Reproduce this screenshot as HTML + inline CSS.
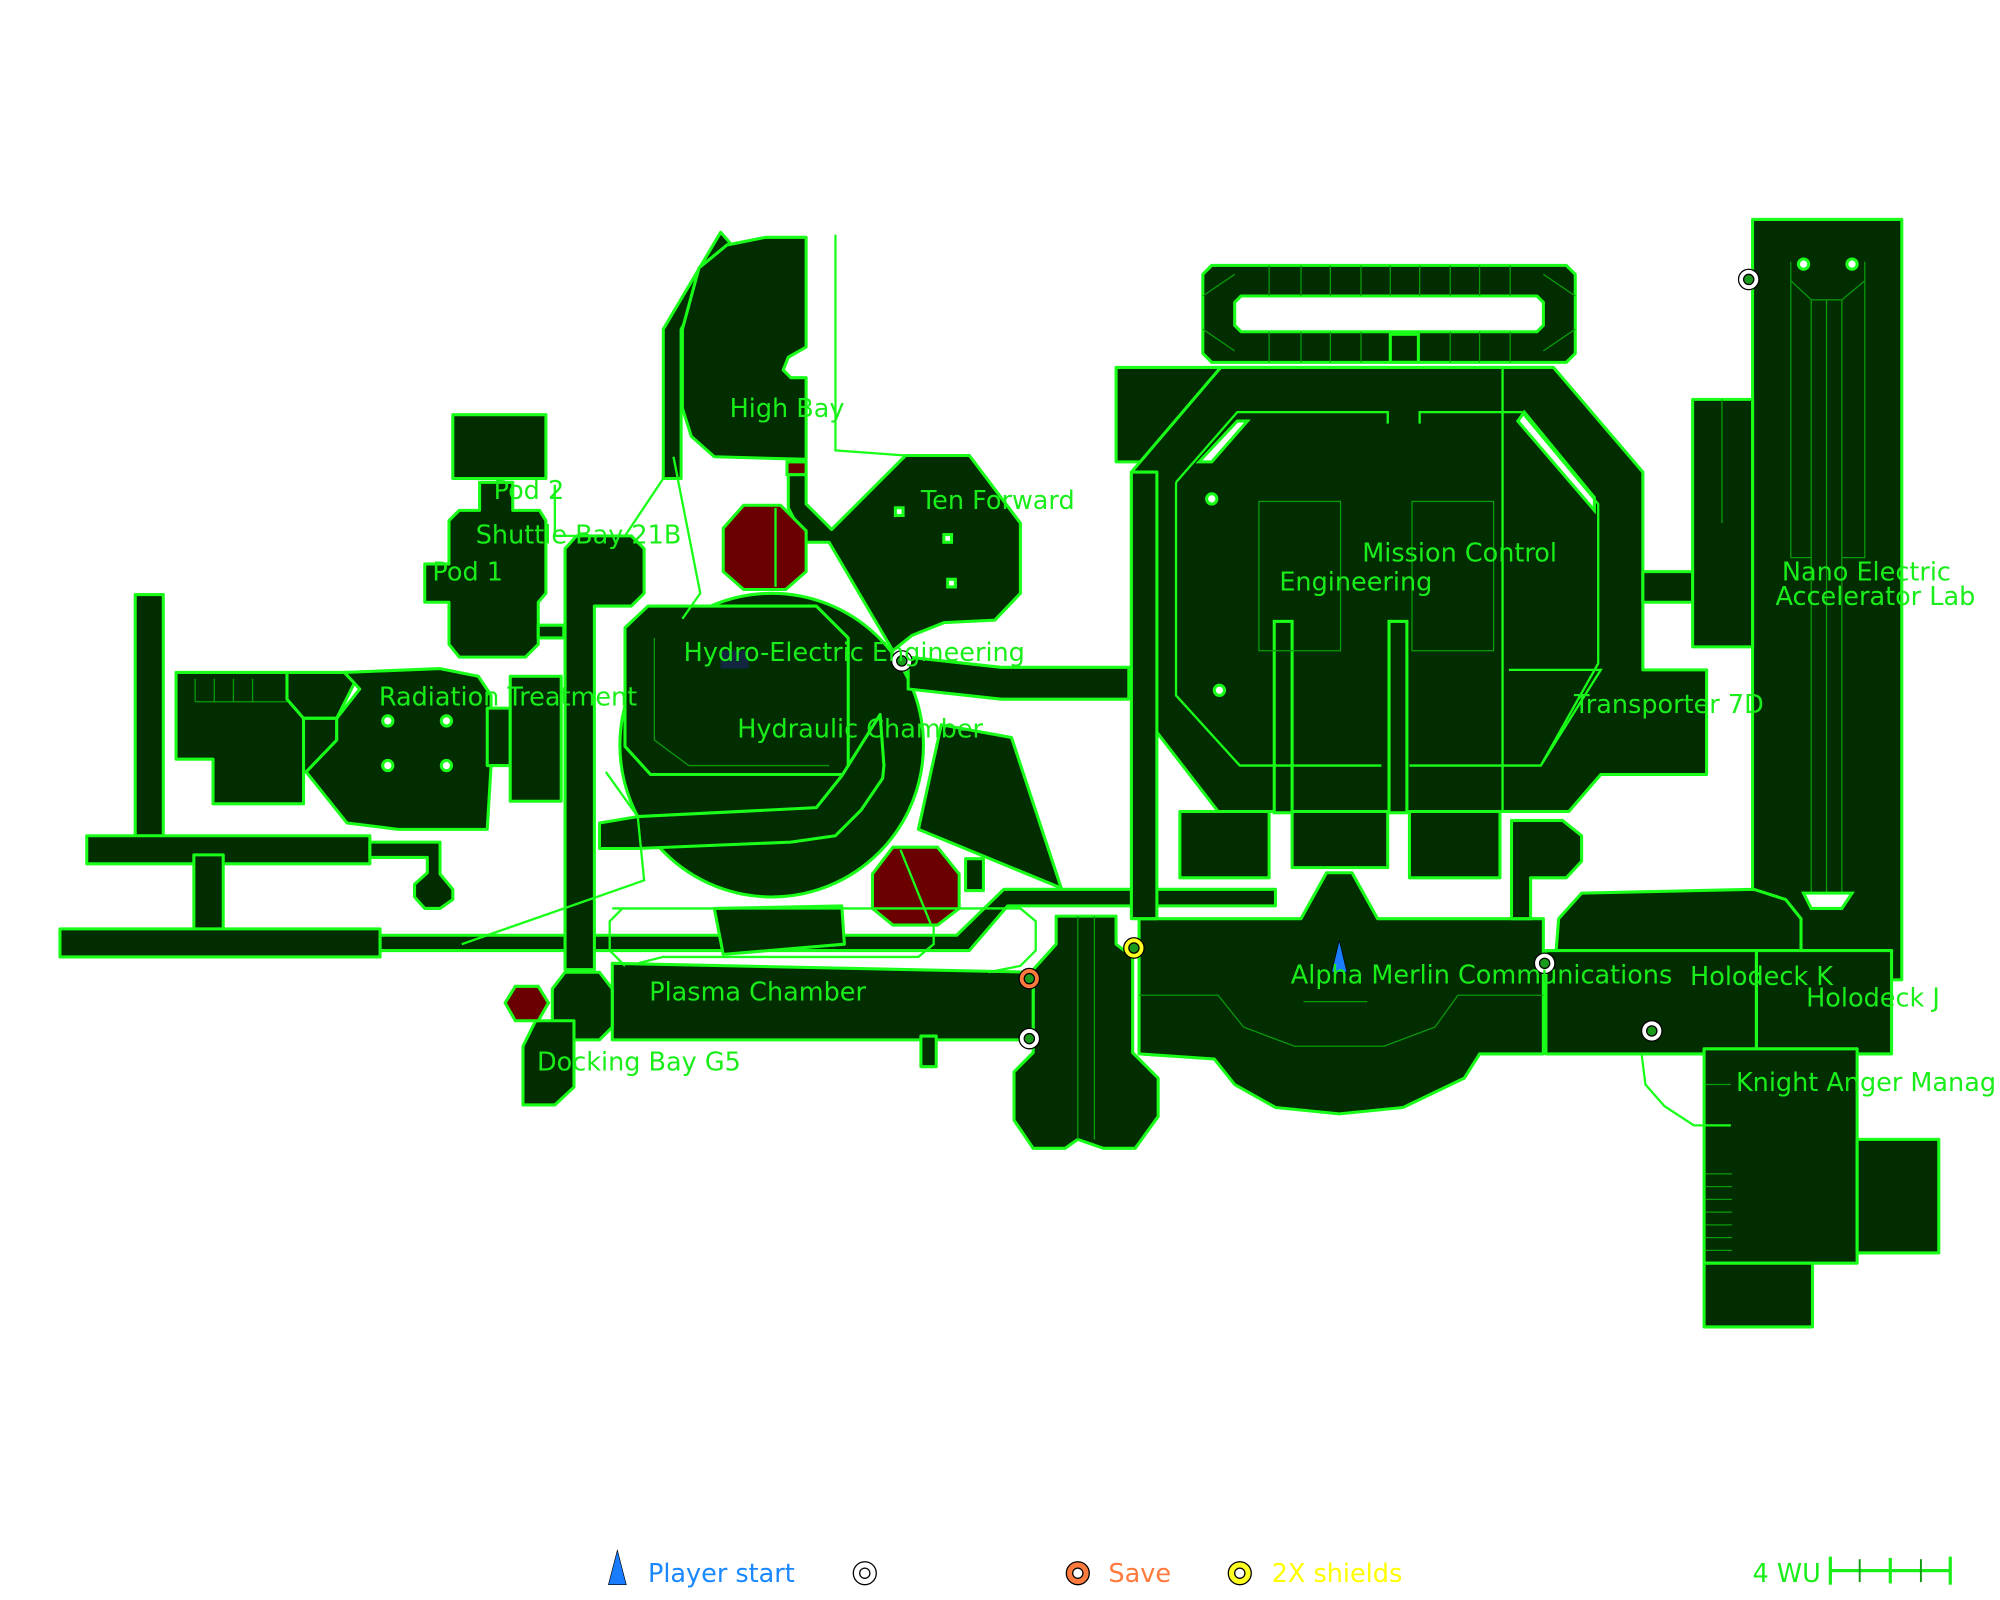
<!DOCTYPE html>
<html><head><meta charset="utf-8"><style>
html,body{margin:0;padding:0;background:#fff;}
svg{display:block;}
text{font-family:"DejaVu Sans","Liberation Sans",sans-serif;}
</style></head><body>
<svg width="2000" height="1600" viewBox="0 0 1568 1254" preserveAspectRatio="none" xmlns="http://www.w3.org/2000/svg">
<g fill="#012d01" stroke="#1aff1a" stroke-width="2.4" stroke-linejoin="round">
<rect x="106" y="466" width="22" height="200"/>
<rect x="68" y="655" width="222" height="22"/>
<rect x="152" y="670" width="23" height="62"/>
<rect x="47" y="728" width="251" height="22"/>
<polygon points="298,733 750,733 787,697 1000,697 1000,710 790,710 760,745 298,745"/>
<polygon points="290,660 345,660 345,685 355,697 355,705 345,712 333,712 325,703 325,693 335,684 335,672 290,672"/>
<polygon points="138,527 225,527 238,563 238,630 167,630 167,595 138,595"/>
<polygon points="225,527 282,527 264,563 238,563 225,548"/>
<rect x="238" y="563" width="26" height="42"/>
<polygon points="270,527 345,524 375,530 385,545 385,600 382,650 312,650 272,645 240,605 264,580 264,563 282,540"/>
<rect x="382" y="555" width="18" height="45"/>
<rect x="400" y="530" width="40" height="98"/>
<rect x="355" y="325" width="73" height="50"/>
<polygon points="376,378 402,378 402,400 423,400 428,408 428,465 422,472 422,505 412,515 360,515 352,505 352,472 333,472 333,442 352,442 352,408 360,400 376,400"/>
<rect x="422" y="490" width="20" height="10"/>
<polygon points="443,430 452,420 495,420 505,430 505,465 495,475 466,475 466,760 443,760"/>
<polygon points="520,258 565,182 572,190 534,258 534,375 520,375"/>
<polygon points="548,210 570,192 600,186 632,186 632,272 618,280 614,290 620,296 632,296 632,360 560,358 542,342 535,320 535,258"/>
<polygon points="618,372 632,372 632,395 652,415 710,357 760,357 800,410 800,465 780,486 740,488 715,498 700,510 650,425 632,425 618,398"/>
<circle cx="605" cy="584" r="119"/>
<polygon points="508,475 640,475 665,500 665,607 510,607 490,585 490,492"/>
<polygon points="470,645 500,640 640,633 660,608 690,560 693,600 692,610 675,635 655,655 620,660 500,665 470,665"/>
<polygon points="712,515 785,523 885,523 885,548 785,548 712,540"/>
<polygon points="738,568 793,578 832,696 720,650"/>
<rect x="757" y="673" width="14" height="25"/>
<rect x="875" y="288" width="82" height="74"/>
<polygon points="887,370 957,288 1218,288 1288,370 1288,525 1338,525 1338,607 1255,607 1230,636 955,636 887,548"/>
<rect x="1288" y="448" width="40" height="24"/>
<polygon points="950,208 1228,208 1235,215 1235,277 1228,284 950,284 943,277 943,215"/>
<polygon points="973,232 1205,232 1210,237 1210,255 1205,260 973,260 968,255 968,237" fill="#fff"/>
<rect x="1374" y="172" width="117" height="596"/>
<rect x="1327" y="313" width="47" height="194"/>
<polygon points="1220,745 1222,720 1240,700 1375,697 1400,705 1412,720 1412,745"/>
<rect x="1377" y="745" width="106" height="81"/>
<rect x="1212" y="745" width="165" height="81"/>
<rect x="1336" y="822" width="120" height="168"/>
<rect x="1456" y="893" width="64" height="89"/>
<rect x="1336" y="990" width="85" height="50"/>
<polygon points="893,720 1020,720 1040,684 1060,684 1080,720 1210,720 1210,826 1160,826 1148,845 1100,868 1050,873 1000,868 968,850 952,830 893,826"/>
<rect x="925" y="636" width="70" height="52"/>
<rect x="1013" y="636" width="75" height="44"/>
<rect x="1105" y="636" width="71" height="52"/>
<polygon points="1185,643 1225,643 1240,655 1240,675 1228,688 1200,688 1200,720 1185,720"/>
<rect x="887" y="370" width="20" height="350"/>
<polygon points="828,718 875,718 875,740 888,750 888,825 908,845 908,875 890,900 865,900 845,893 835,900 810,900 795,878 795,840 810,825 810,760 828,740"/>
<polygon points="480,755 810,762 810,815 480,815"/>
<polygon points="443,762 470,762 480,775 480,805 470,815 443,815 433,805 433,775"/>
<polygon points="410,820 420,800 450,800 450,852 435,866 410,866"/>
<polygon points="560,712 660,710 662,740 567,748"/>
<rect x="722" y="812" width="12" height="24"/>
</g>
<g fill="#fff" stroke="#1aff1a" stroke-width="2.4">
<polygon points="940,362 970,330 978,330 950,362"/>
<polygon points="1195,323 1250,390 1250,400 1190,330"/>
</g>
<g fill="#012d01" stroke="#1aff1a" stroke-width="2.4">
<rect x="999" y="487" width="14" height="150"/>
<rect x="1089" y="487" width="14" height="150"/>
</g>
<g fill="#6b0000" stroke="#1aff1a" stroke-width="2.4">
<polygon points="583,396 612,396 632,416 632,448 616,462 583,462 567,448 567,414"/>
<polygon points="700,664 735,664 752,685 752,712 735,725 700,725 684,712 684,685"/>
<polygon points="404,773 422,773 430,786 422,800 404,800 396,786"/>
<rect x="617" y="362" width="15" height="10"/>
</g>
<g fill="none" stroke="#1aff1a" stroke-width="1.8">
<polyline points="655,184 655,353 710,357"/>
<polyline points="528,358 549,465 535,485"/>
<polyline points="520,375 490,420 435,420 435,380"/>
<polyline points="475,605 500,640 505,690 362,740"/>
<polyline points="480,712 800,712 812,722 812,745 800,757 775,762"/>
<polyline points="1287,826 1290,850 1305,867 1328,882 1357,882"/>
<polyline points="608,398 608,460"/>
<polyline points="706,666 730,725"/>
<polyline points="922,378 970,323 1088,323 1088,332"/>
<polyline points="1113,332 1113,323 1193,323 1253,395 1253,520 1208,600 1105,600"/>
<polyline points="1083,600 972,600 922,545 922,378"/>
<polyline points="1183,525 1255,525 1208,600"/>
<polyline points="488,712 478,722 478,745 490,757"/>
<polyline points="500,755 520,750 720,750 732,740 732,725"/>
<line x1="1178" y1="288" x2="1178" y2="636"/>
</g>
<g fill="none" stroke="#0a9a0a" stroke-width="1">
<rect x="1420" y="235" width="24" height="465"/>
<polyline points="1404,205 1404,437 1420,437"/><polyline points="1462,205 1462,437 1444,437"/>
<polyline points="1404,220 1420,235"/><polyline points="1462,220 1444,235"/>
<line x1="1432" y1="235" x2="1432" y2="700"/>
<rect x="1107" y="393" width="64" height="117"/><rect x="987" y="393" width="64" height="117"/>
<line x1="153" y1="550" x2="225" y2="550"/>
<polyline points="893,780 955,780 975,805 1015,820 1085,820 1125,805 1143,780 1210,780"/>
<line x1="1022" y1="785" x2="1072" y2="785"/>
<polyline points="943,258 968,275"/><polyline points="943,232 968,215"/>
<polyline points="1235,258 1210,275"/><polyline points="1235,232 1210,215"/>
<line x1="1350" y1="313" x2="1350" y2="410"/>
<line x1="1337" y1="850" x2="1357" y2="850"/>
<polyline points="513,500 513,580 540,600 650,600"/>
<line x1="845" y1="718" x2="845" y2="893"/><line x1="858" y1="718" x2="858" y2="893"/>
</g>
<g stroke="#0a9a0a" stroke-width="1">
<line x1="995" y1="208" x2="995" y2="232"/><line x1="1020" y1="208" x2="1020" y2="232"/><line x1="1043" y1="208" x2="1043" y2="232"/><line x1="1067" y1="208" x2="1067" y2="232"/><line x1="1090" y1="208" x2="1090" y2="232"/><line x1="1113" y1="208" x2="1113" y2="232"/><line x1="1137" y1="208" x2="1137" y2="232"/><line x1="1160" y1="208" x2="1160" y2="232"/><line x1="1184" y1="208" x2="1184" y2="232"/>
<line x1="995" y1="260" x2="995" y2="284"/><line x1="1020" y1="260" x2="1020" y2="284"/><line x1="1043" y1="260" x2="1043" y2="284"/><line x1="1067" y1="260" x2="1067" y2="284"/><line x1="1137" y1="260" x2="1137" y2="284"/><line x1="1160" y1="260" x2="1160" y2="284"/><line x1="1184" y1="260" x2="1184" y2="284"/>
<line x1="1337" y1="920" x2="1358" y2="920"/><line x1="1337" y1="930" x2="1358" y2="930"/><line x1="1337" y1="940" x2="1358" y2="940"/><line x1="1337" y1="950" x2="1358" y2="950"/><line x1="1337" y1="960" x2="1358" y2="960"/><line x1="1337" y1="970" x2="1358" y2="970"/><line x1="1337" y1="980" x2="1358" y2="980"/>
<line x1="153" y1="532" x2="153" y2="550"/><line x1="168" y1="532" x2="168" y2="550"/><line x1="183" y1="532" x2="183" y2="550"/><line x1="198" y1="532" x2="198" y2="550"/>
</g>
<g stroke="#1aff1a" stroke-width="2.4"><rect x="1090" y="262" width="22" height="22" fill="none"/></g>
<g fill="#fff" stroke="#1aff1a" stroke-width="2.4">
<circle cx="304" cy="565" r="4"/><circle cx="350" cy="565" r="4"/><circle cx="304" cy="600" r="4"/><circle cx="350" cy="600" r="4"/>
<circle cx="1414" cy="207" r="4"/><circle cx="1452" cy="207" r="4"/>
<circle cx="950" cy="391" r="4"/><circle cx="956" cy="541" r="4"/>
<rect x="702" y="398" width="6" height="6"/><rect x="740" y="419" width="6" height="6"/><rect x="743" y="454" width="6" height="6"/>
</g>
<polygon points="1414,700 1452,700 1444,712 1420,712" fill="#fff" stroke="#1aff1a" stroke-width="2.4"/>
<rect x="565" y="510" width="22" height="14" fill="#132640"/>
<g>
<circle cx="707" cy="518" r="8" fill="#fff" stroke="#000" stroke-width="1"/><circle cx="707" cy="518" r="4" fill="#1a9a1a" stroke="#000" stroke-width="1"/>
<circle cx="1371" cy="219" r="8" fill="#fff" stroke="#000" stroke-width="1"/><circle cx="1371" cy="219" r="4" fill="#1a9a1a" stroke="#000" stroke-width="1"/>
<circle cx="1211" cy="755" r="8" fill="#fff" stroke="#000" stroke-width="1"/><circle cx="1211" cy="755" r="4" fill="#1a9a1a" stroke="#000" stroke-width="1"/>
<circle cx="1295" cy="808" r="8" fill="#fff" stroke="#000" stroke-width="1"/><circle cx="1295" cy="808" r="4" fill="#1a9a1a" stroke="#000" stroke-width="1"/>
<circle cx="807" cy="814" r="8" fill="#fff" stroke="#000" stroke-width="1"/><circle cx="807" cy="814" r="4" fill="#1a9a1a" stroke="#000" stroke-width="1"/>
<circle cx="807" cy="767" r="8" fill="#ff7a3d" stroke="#000" stroke-width="1"/><circle cx="807" cy="767" r="4" fill="#1a9a1a" stroke="#000" stroke-width="1"/>
<circle cx="889" cy="743" r="8" fill="#ffff22" stroke="#000" stroke-width="1"/><circle cx="889" cy="743" r="4" fill="#1a9a1a" stroke="#000" stroke-width="1"/>
</g>
<polygon points="1050,737 1056,762 1044,762" fill="#1a7cff" stroke="#000" stroke-width="0.5"/>
<g fill="#1aee1a" font-size="20">
<text x="572" y="327">High Bay</text>
<text x="387" y="391">Pod 2</text>
<text x="722" y="399">Ten Forward</text>
<text x="373" y="426">Shuttle Bay 21B</text>
<text x="339" y="455">Pod 1</text>
<text x="1068" y="440">Mission Control</text>
<text x="1003" y="463">Engineering</text>
<text x="1397" y="455">Nano Electric</text>
<text x="1392" y="474">Accelerator Lab</text>
<text x="536" y="518">Hydro-Electric Engineering</text>
<text x="297" y="553">Radiation Treatment</text>
<text x="1234" y="559">Transporter 7D</text>
<text x="578" y="578">Hydraulic Chamber</text>
<text x="1012" y="771">Alpha Merlin Communications</text>
<text x="1325" y="772">Holodeck K</text>
<text x="509" y="784">Plasma Chamber</text>
<text x="1416" y="789">Holodeck J</text>
<text x="421" y="839">Docking Bay G5</text>
<text x="1361" y="855">Knight Anger Manag</text>
</g>
<polygon points="484,1215 491,1242 477,1242" fill="#1a7cff" stroke="#000" stroke-width="0.5"/>
<text x="508" y="1240" font-size="20" fill="#1a88ff">Player start</text>
<circle cx="678" cy="1233" r="9" fill="#fff" stroke="#000" stroke-width="1"/><circle cx="678" cy="1233" r="4" fill="#fff" stroke="#000" stroke-width="1"/>
<circle cx="845" cy="1233" r="9" fill="#ff7a3d" stroke="#000" stroke-width="1"/><circle cx="845" cy="1233" r="4" fill="#fff" stroke="#000" stroke-width="1"/>
<text x="869" y="1240" font-size="20" fill="#ff7a3d">Save</text>
<circle cx="972" cy="1233" r="9" fill="#ffff22" stroke="#000" stroke-width="1"/><circle cx="972" cy="1233" r="4" fill="#fff" stroke="#000" stroke-width="1"/>
<text x="997" y="1240" font-size="20" fill="#ffff00">2X shields</text>
<text x="1374" y="1240" font-size="20" fill="#1aee1a">4 WU</text>
<g stroke="#1aee1a" stroke-width="2.5">
<line x1="1435" y1="1231" x2="1529" y2="1231"/>
<line x1="1435" y1="1220" x2="1435" y2="1242"/><line x1="1529" y1="1220" x2="1529" y2="1242"/>
<line x1="1482" y1="1221" x2="1482" y2="1241"/>
</g>
<g stroke="#119911" stroke-width="1.5"><line x1="1458" y1="1222" x2="1458" y2="1240"/><line x1="1506" y1="1222" x2="1506" y2="1240"/></g>
</svg>
</body></html>
